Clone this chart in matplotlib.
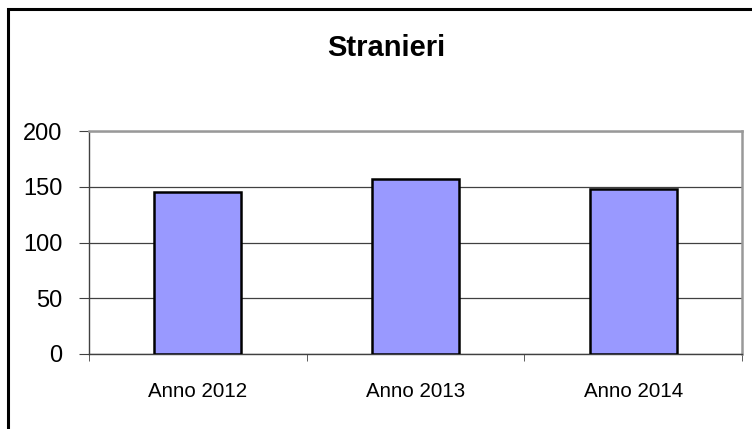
import matplotlib
matplotlib.use("Agg")
import matplotlib.pyplot as plt
import matplotlib.patches as mpatches
import numpy as np

# Data
categories = ["Anno 2012", "Anno 2013", "Anno 2014"]
values = [145, 157, 148]
y_ticks = [0, 50, 100, 150, 200]

plt.rcParams['font.family'] = ['Liberation Sans', 'DejaVu Sans']

fig = plt.figure(figsize=(7.52, 4.29), dpi=100)
ax = fig.add_axes([89 / 752, 1 - 354 / 429, 653 / 752, 223 / 429])

x = np.arange(len(categories))
ax.bar(x, values, width=0.4, color='#9999FF', edgecolor='black', linewidth=1.8, zorder=3)

ax.set_xlim(-0.5, len(categories) - 0.5)
ax.set_ylim(0, 200)
ax.set_yticks(y_ticks)
ax.set_yticklabels([str(v) for v in y_ticks], fontsize=17)
ax.yaxis.grid(True, color='#404040', linewidth=0.9, zorder=1)

# category labels between boundary ticks
ax.set_xticks(x)
ax.set_xticklabels(categories, fontsize=14.8)
ax.tick_params(axis='x', length=0, pad=20)
ax.set_xticks(np.arange(-0.5, len(categories), 1.0), minor=True)
ax.tick_params(axis='x', which='minor', length=5, direction='out', color='#404040')
ax.tick_params(axis='y', length=7, direction='out', color='#404040', pad=12)

for side in ['left', 'bottom']:
    ax.spines[side].set_color('#404040')
    ax.spines[side].set_linewidth(1.0)
for side in ['top', 'right']:
    ax.spines[side].set_color('#999999')
    ax.spines[side].set_linewidth(1.8)

# Title
fig.text(386 / 752, 1 - 48 / 429, "Stranieri", ha='center', va='center',
         fontsize=21, fontweight='bold')

# Outer chart border (extends past right and bottom edges)
border = mpatches.Rectangle((8 / 752, -0.1), 1.1, 1.1 - 9 / 429, transform=fig.transFigure,
                            fill=False, edgecolor='black', linewidth=2.2)
fig.patches.append(border)

fig.savefig("out.png", dpi=100)
